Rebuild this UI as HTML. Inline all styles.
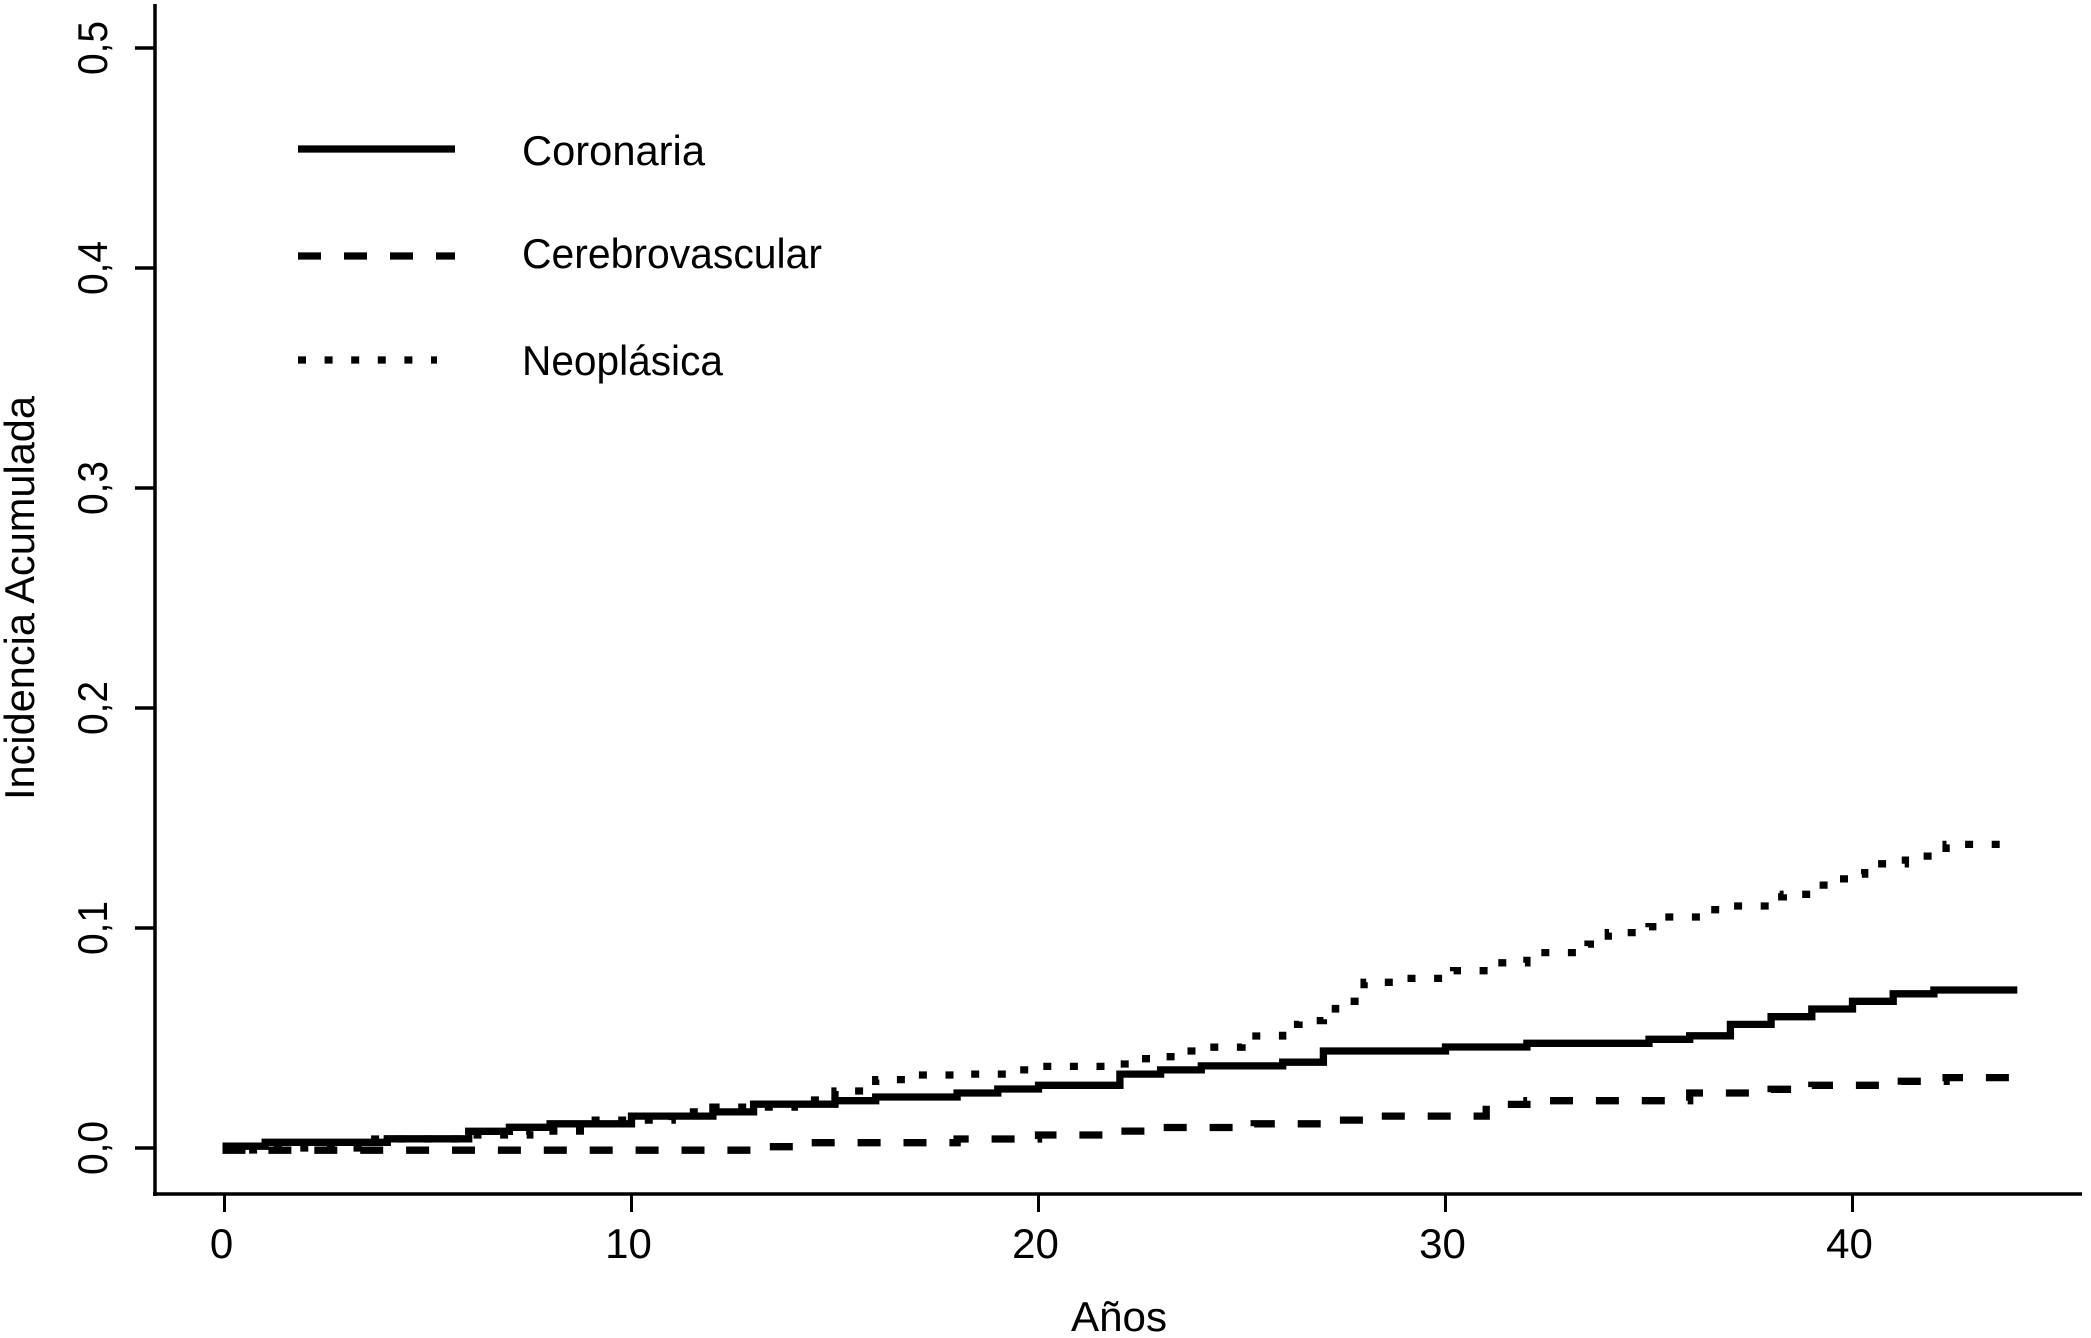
<!DOCTYPE html>
<html lang="es">
<head>
<meta charset="utf-8">
<title>Incidencia Acumulada</title>
<style>
html,body{margin:0;padding:0;background:#fff;width:2091px;height:1338px;overflow:hidden}
svg{display:block}
text{font-family:"Liberation Sans",sans-serif;font-size:42px;fill:#000}
</style>
</head>
<body>
<svg id="chart" xmlns="http://www.w3.org/2000/svg" width="2091" height="1338" viewBox="0 0 2091 1338">
  <rect x="0" y="0" width="2091" height="1338" fill="#fff"/>
  <g id="series"></g>
  <line x1="155" y1="4" x2="155" y2="1196" stroke="#000" stroke-width="3.5"/>
  <line x1="153" y1="1194" x2="2082" y2="1194" stroke="#000" stroke-width="3.5"/>
  <g id="xticks"></g>
  <g id="yticks"></g>
  <text x="1119" y="1331" text-anchor="middle" textLength="96" lengthAdjust="spacingAndGlyphs">Años</text>
  <text transform="translate(34 598) rotate(-90)" text-anchor="middle" textLength="404" lengthAdjust="spacingAndGlyphs">Incidencia Acumulada</text>
  <g>
    <g>
      <line x1="298" y1="149" x2="455" y2="149" stroke="#000" stroke-width="7.3"/>
      <text x="522" y="165" textLength="183" lengthAdjust="spacingAndGlyphs">Coronaria</text>
    </g>
    <g>
      <line x1="298" y1="256" x2="455" y2="256" stroke="#000" stroke-width="7.3" stroke-dasharray="23 23"/>
      <text x="522" y="268" textLength="300" lengthAdjust="spacingAndGlyphs">Cerebrovascular</text>
    </g>
    <g>
      <line x1="298" y1="360" x2="437" y2="360" stroke="#000" stroke-width="7.3" stroke-dasharray="8 18.6"/>
      <text x="522" y="375" textLength="201" lengthAdjust="spacingAndGlyphs">Neoplásica</text>
    </g>
  </g>
</svg>
<script>
const xTickValues = [0, 10, 20, 30, 40];
const xTickLabels = ["0", "10", "20", "30", "40"];
const yTickValues = [0, 0.1, 0.2, 0.3, 0.4, 0.5];
const yTickLabels = ["0,0", "0,1", "0,2", "0,3", "0,4", "0,5"];

const coronariaYears = [-0.05, 1, 4, 6, 7, 8, 10, 12, 13, 15, 16, 18, 19, 20, 22, 23, 24, 26, 27, 30, 32, 35, 36, 37, 38, 39, 40, 41, 42, 44.05];
const coronariaValues = [0.0008, 0.0026, 0.0042, 0.0076, 0.0094, 0.011, 0.0145, 0.0164, 0.0199, 0.0215, 0.0232, 0.025, 0.0268, 0.0285, 0.0336, 0.0355, 0.0373, 0.039, 0.0441, 0.0459, 0.0476, 0.0494, 0.051, 0.0562, 0.0597, 0.0632, 0.0667, 0.0701, 0.0718, 0.0718];

const cerebrovascularYears = [-0.05, 13, 14.4, 18, 20, 22, 23, 25.3, 27, 28, 31, 32, 36, 38, 39, 41.2, 42.3, 44.05];
const cerebrovascularValues = [-0.001, 0.0006, 0.0024, 0.0041, 0.0059, 0.0077, 0.0093, 0.011, 0.0127, 0.0145, 0.0198, 0.0215, 0.025, 0.0267, 0.0285, 0.0303, 0.032, 0.032];

const neoplasicaYears = [-0.05, 1, 3.5, 6, 7.5, 9, 11, 12, 14, 15, 16, 17, 18, 19.5, 20, 22, 22.3, 23, 23.5, 24, 25, 26, 26.4, 27, 27.3, 28, 29, 30.2, 31.2, 32, 33.5, 34, 35, 35.3, 36.4, 37, 38, 38.3, 39, 39.4, 40, 40.3, 41.3, 42, 42.3, 44];
const neoplasicaValues = [-0.0009, 0, 0.0041, 0.0059, 0.0077, 0.0127, 0.0164, 0.0186, 0.0218, 0.0259, 0.0311, 0.0332, 0.0336, 0.0355, 0.0371, 0.0382, 0.0406, 0.0415, 0.0441, 0.0458, 0.0509, 0.0562, 0.0579, 0.0632, 0.0667, 0.0753, 0.0771, 0.0806, 0.0842, 0.0888, 0.0927, 0.0979, 0.1006, 0.105, 0.1083, 0.11, 0.1142, 0.1153, 0.1195, 0.1223, 0.1245, 0.1292, 0.1327, 0.1344, 0.138, 0.138];

const SVG_NS = "http://www.w3.org/2000/svg";
function xScale(t) { return 224.5 + 40.7 * t; }
function yScale(v) { return 1148 - 2200 * v; }

function stepPath(years, values) {
  let d = "M" + xScale(years[0]).toFixed(1) + " " + yScale(values[0]).toFixed(1);
  for (let i = 1; i < years.length; i++) {
    d += "H" + xScale(years[i]).toFixed(1);
    d += "V" + yScale(values[i]).toFixed(1);
  }
  return d;
}

const seriesGroup = document.getElementById("series");

const neoplasicaLine = document.createElementNS(SVG_NS, "path");
neoplasicaLine.setAttribute("d", stepPath(neoplasicaYears, neoplasicaValues));
neoplasicaLine.setAttribute("fill", "none");
neoplasicaLine.setAttribute("stroke", "#000");
neoplasicaLine.setAttribute("stroke-width", "7.3");
neoplasicaLine.setAttribute("stroke-dasharray", "8 18.6");


seriesGroup.appendChild(neoplasicaLine);

const cerebrovascularLine = document.createElementNS(SVG_NS, "path");
cerebrovascularLine.setAttribute("d", stepPath(cerebrovascularYears, cerebrovascularValues));
cerebrovascularLine.setAttribute("fill", "none");
cerebrovascularLine.setAttribute("stroke", "#000");
cerebrovascularLine.setAttribute("stroke-width", "7.3");
cerebrovascularLine.setAttribute("stroke-dasharray", "23 22.9");


seriesGroup.appendChild(cerebrovascularLine);

const coronariaLine = document.createElementNS(SVG_NS, "path");
coronariaLine.setAttribute("d", stepPath(coronariaYears, coronariaValues));
coronariaLine.setAttribute("fill", "none");
coronariaLine.setAttribute("stroke", "#000");
coronariaLine.setAttribute("stroke-width", "7.3");


seriesGroup.appendChild(coronariaLine);

const xTickGroup = document.getElementById("xticks");
xTickValues.forEach(function (value, i) {
  const tick = document.createElementNS(SVG_NS, "line");
  tick.setAttribute("x1", xScale(value));
  tick.setAttribute("x2", xScale(value));
  tick.setAttribute("y1", 1194);
  tick.setAttribute("y2", 1212);
  tick.setAttribute("stroke", "#000");
  tick.setAttribute("stroke-width", "3");
  
  
  xTickGroup.appendChild(tick);
  const label = document.createElementNS(SVG_NS, "text");
  label.setAttribute("x", xScale(value) - 3);
  label.setAttribute("y", 1258);
  label.setAttribute("text-anchor", "middle");
  label.textContent = xTickLabels[i];
  
  
  xTickGroup.appendChild(label);
});

const yTickGroup = document.getElementById("yticks");
yTickValues.forEach(function (value, i) {
  const tick = document.createElementNS(SVG_NS, "line");
  tick.setAttribute("x1", 135);
  tick.setAttribute("x2", 155);
  tick.setAttribute("y1", yScale(value));
  tick.setAttribute("y2", yScale(value));
  tick.setAttribute("stroke", "#000");
  tick.setAttribute("stroke-width", "3.5");
  
  
  yTickGroup.appendChild(tick);
  const label = document.createElementNS(SVG_NS, "text");
  label.setAttribute("transform", "translate(107 " + yScale(value) + ") rotate(-90)");
  label.setAttribute("text-anchor", "middle");
  label.setAttribute("textLength", "54");
  label.setAttribute("lengthAdjust", "spacingAndGlyphs");
  label.textContent = yTickLabels[i];
  
  
  yTickGroup.appendChild(label);
});
</script>
</body>
</html>
